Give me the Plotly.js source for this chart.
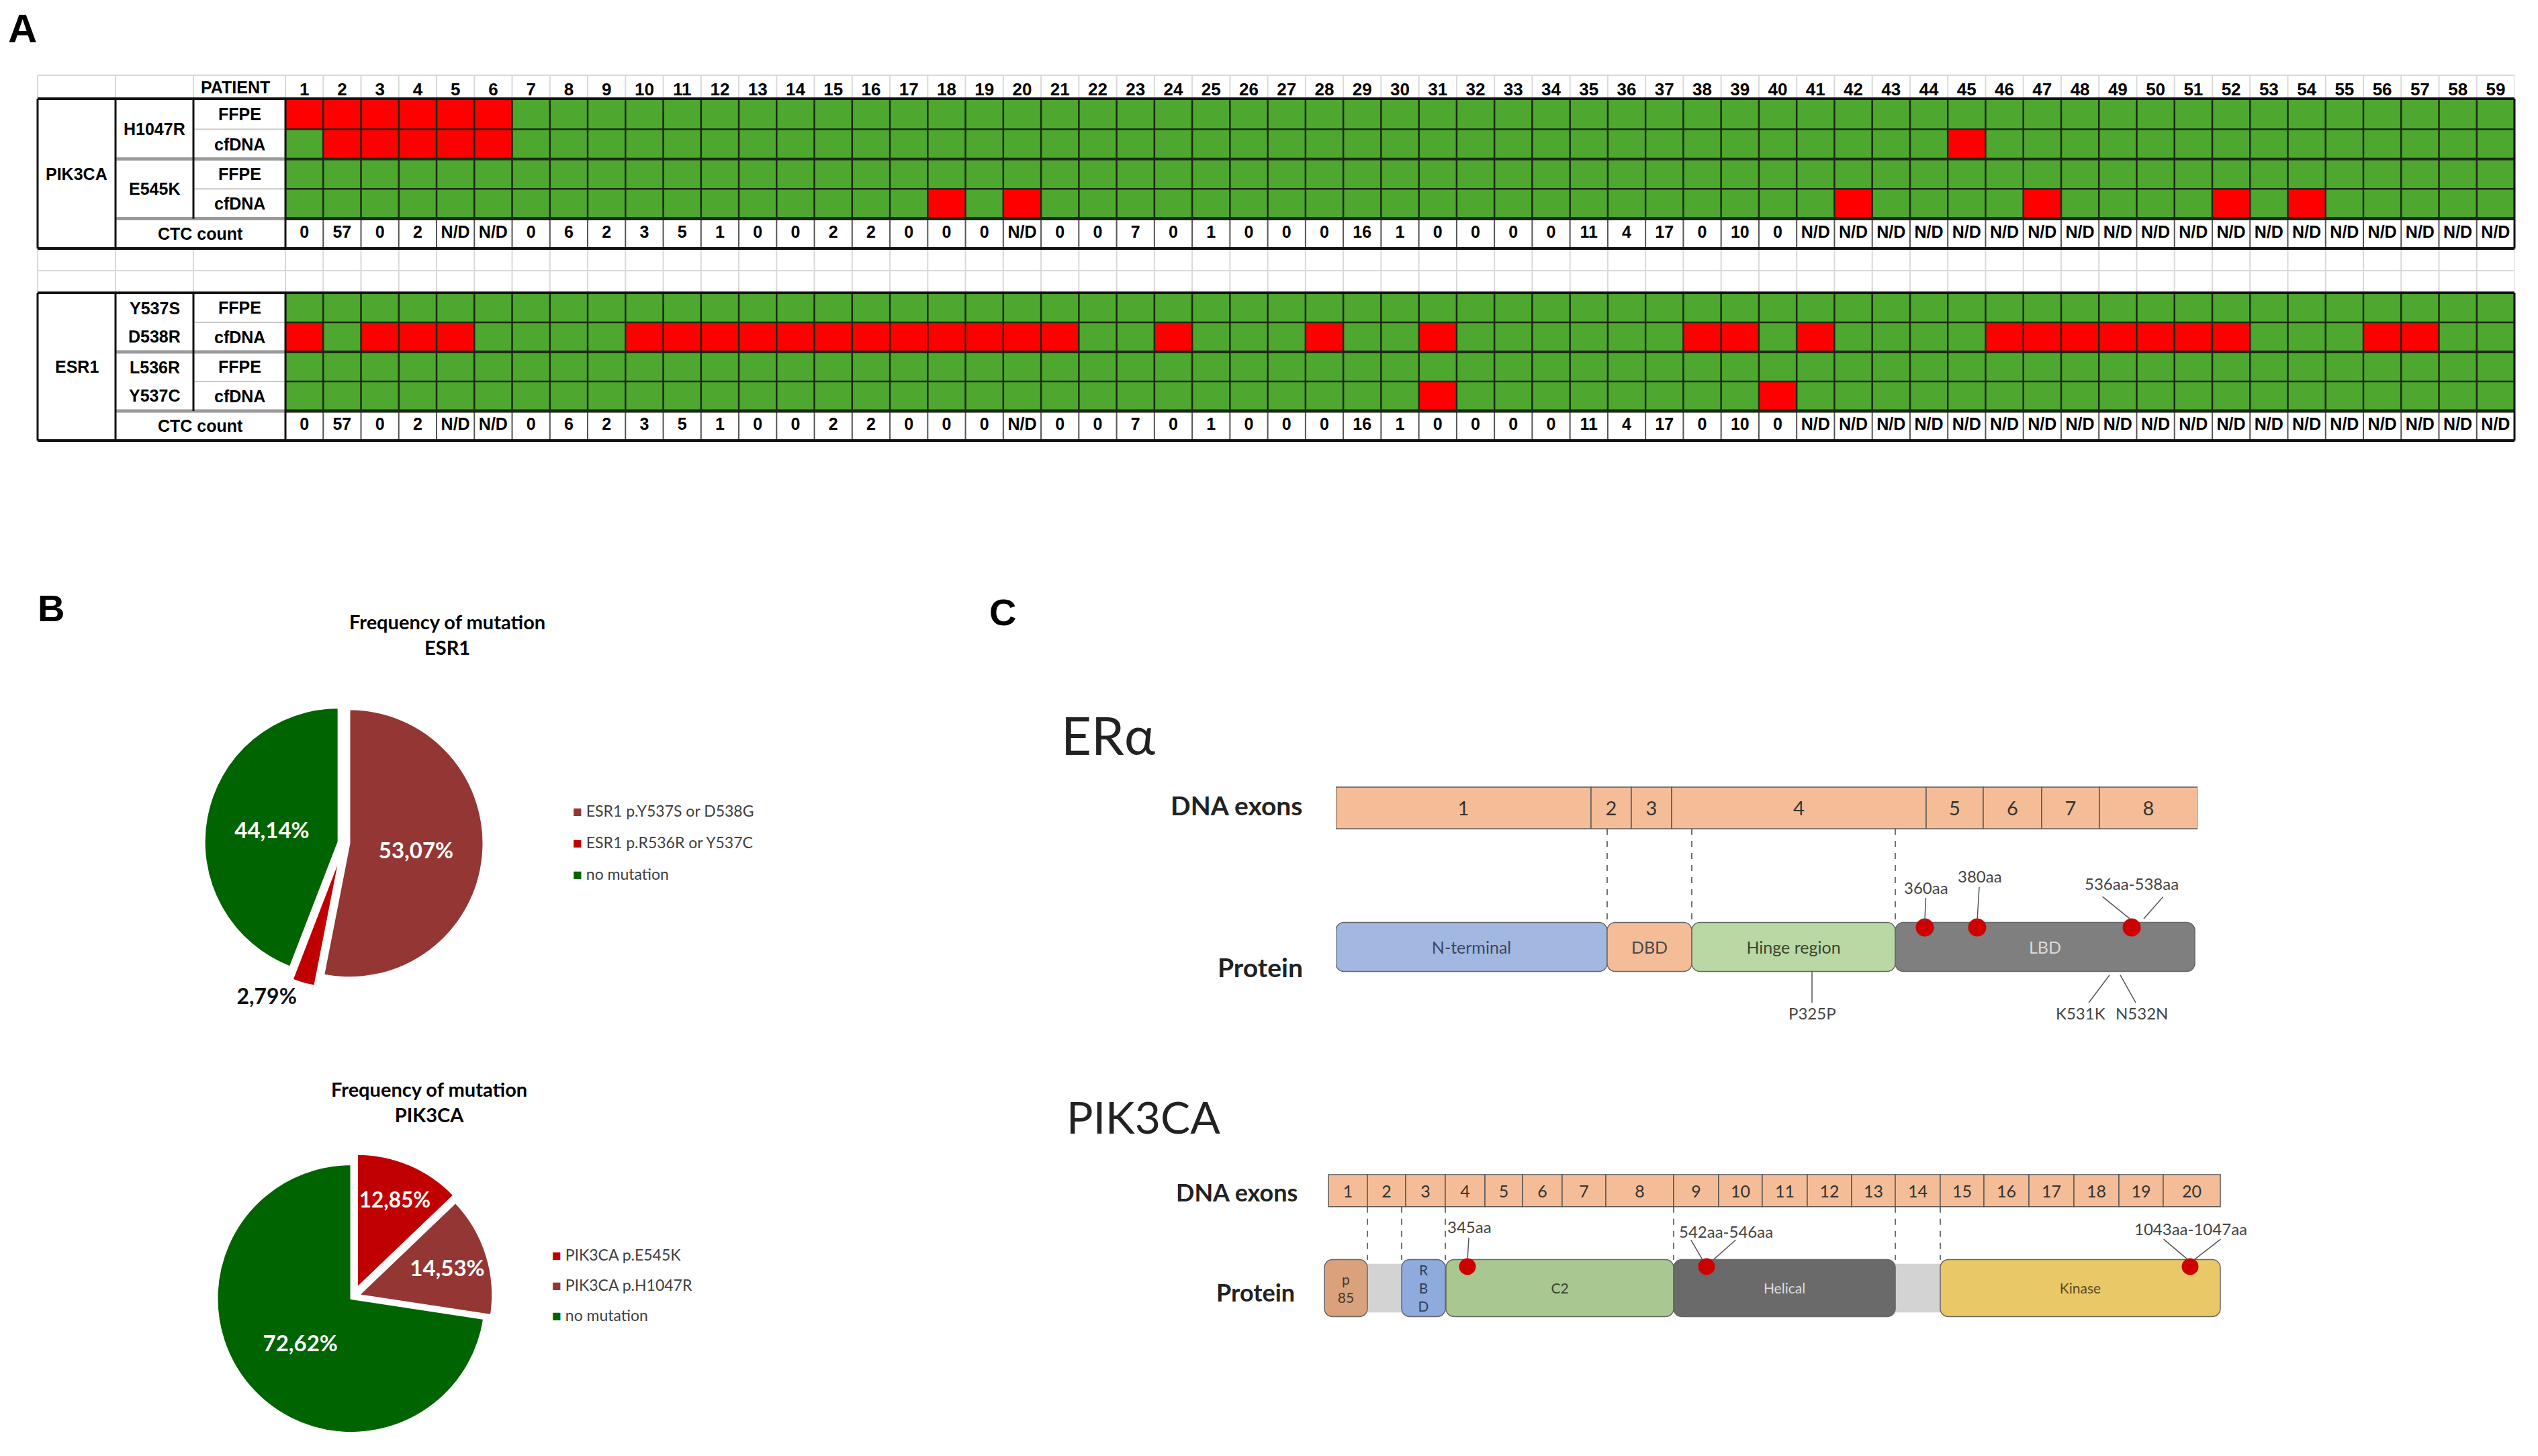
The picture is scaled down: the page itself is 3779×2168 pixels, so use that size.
<!DOCTYPE html>
<html><head><meta charset="utf-8">
<script src="https://cdn.plot.ly/plotly-3.0.1.min.js"></script>
<style>html,body{margin:0;padding:0;background:#fff}#chart{width:3779px;height:2168px}</style>
</head><body><div id="chart"></div>
<script>
const W=3779,H=2168;
const px=x=>x/W, py=y=>1-y/H;
const NARROW='"Liberation Sans Narrow","Arial Narrow","Liberation Sans",Arial,sans-serif';
const CAL='Lato,"Open Sans",sans-serif';

// ---------- Panel A data ----------
const patients=[1,2,3,4,5,6,7,8,9,10,11,12,13,14,15,16,17,18,19,20,21,22,23,24,25,26,27,28,29,30,31,32,33,34,35,36,37,38,39,40,41,42,43,44,45,46,47,48,49,50,51,52,53,54,55,56,57,58,59];
const pik_H1047R_FFPE =[1,1,1,1,1,1,0,0,0,0, 0,0,0,0,0,0,0,0,0,0, 0,0,0,0,0,0,0,0,0,0, 0,0,0,0,0,0,0,0,0,0, 0,0,0,0,0,0,0,0,0,0, 0,0,0,0,0,0,0,0,0];
const pik_H1047R_cfDNA=[0,1,1,1,1,1,0,0,0,0, 0,0,0,0,0,0,0,0,0,0, 0,0,0,0,0,0,0,0,0,0, 0,0,0,0,0,0,0,0,0,0, 0,0,0,0,1,0,0,0,0,0, 0,0,0,0,0,0,0,0,0];
const pik_E545K_FFPE  =[0,0,0,0,0,0,0,0,0,0, 0,0,0,0,0,0,0,0,0,0, 0,0,0,0,0,0,0,0,0,0, 0,0,0,0,0,0,0,0,0,0, 0,0,0,0,0,0,0,0,0,0, 0,0,0,0,0,0,0,0,0];
const pik_E545K_cfDNA =[0,0,0,0,0,0,0,0,0,0, 0,0,0,0,0,0,0,1,0,1, 0,0,0,0,0,0,0,0,0,0, 0,0,0,0,0,0,0,0,0,0, 0,1,0,0,0,0,1,0,0,0, 0,1,0,1,0,0,0,0,0];
const esr_Y537S_FFPE  =[0,0,0,0,0,0,0,0,0,0, 0,0,0,0,0,0,0,0,0,0, 0,0,0,0,0,0,0,0,0,0, 0,0,0,0,0,0,0,0,0,0, 0,0,0,0,0,0,0,0,0,0, 0,0,0,0,0,0,0,0,0];
const esr_Y537S_cfDNA =[1,0,1,1,1,0,0,0,0,1, 1,1,1,1,1,1,1,1,1,1, 1,0,0,1,0,0,0,1,0,0, 1,0,0,0,0,0,0,1,1,0, 1,0,0,0,0,1,1,1,1,1, 1,1,0,0,0,1,1,0,0];
const esr_L536R_FFPE  =[0,0,0,0,0,0,0,0,0,0, 0,0,0,0,0,0,0,0,0,0, 0,0,0,0,0,0,0,0,0,0, 0,0,0,0,0,0,0,0,0,0, 0,0,0,0,0,0,0,0,0,0, 0,0,0,0,0,0,0,0,0];
const esr_L536R_cfDNA =[0,0,0,0,0,0,0,0,0,0, 0,0,0,0,0,0,0,0,0,0, 0,0,0,0,0,0,0,0,0,0, 1,0,0,0,0,0,0,0,0,1, 0,0,0,0,0,0,0,0,0,0, 0,0,0,0,0,0,0,0,0];
const ctcCount=['0','57','0','2','N/D','N/D','0','6','2','3', '5','1','0','0','2','2','0','0','0','N/D', '0','0','7','0','1','0','0','0','16','1', '0','0','0','0','11','4','17','0','10','0',
 'N/D','N/D','N/D','N/D','N/D','N/D','N/D','N/D','N/D','N/D', 'N/D','N/D','N/D','N/D','N/D','N/D','N/D','N/D','N/D'];
const sampleTypes=['FFPE','cfDNA'];

// ---------- Panel B data ----------
const esrLabels=['ESR1 p.Y537S or D538G','ESR1 p.R536R or Y537C','no mutation'];
const esrValues=[53.07,2.79,44.14];
const esrColors=['#943634','#C00000','#006400'];
const pikLabels=['PIK3CA p.E545K','PIK3CA p.H1047R','no mutation'];
const pikValues=[12.85,14.53,72.62];
const pikColors=['#C00000','#943634','#006400'];

// ---------- Panel C data ----------
const erExonNames=['1','2','3','4','5','6','7','8'];
const erExonLen=[380,60,60,379,85,87,86,146];
const erDomNames=['N-terminal','DBD','Hinge region','LBD'];
const erDomLen=[404,126,303,446];
const erDomColors=['#A3B8E0','#F4BD97','#B9D8A4','#7F7F7F'];
const erDomText=['#3d4660','#4a4a4a','#3a4530','#d9d9d9'];
const erMutLabels=['360aa','380aa','536aa-538aa'];
const erMutPos=[877,955,1185];
const erSilentLabels=['P325P','K531K','N532N'];
const erSilentPos=[709,1152,1168];

const pikExonNames=['1','2','3','4','5','6','7','8','9','10','11','12','13','14','15','16','17','18','19','20'];
const pikExonLen=[58,57,59,59,56,59,65,101,67,65,67,66,65,67,65,67,67,67,66,85];
const pikDomNames=['p<br>85','R<br>B<br>D','C2','Helical','Kinase'];
const pikDomStart=[-6,109,175,514,911];
const pikDomLen=[64,65,339,330,417];
const pikDomColors=['#D9A27C','#8FAADC','#A9C790','#6A6A6A','#E8C867'];
const pikDomText=['#4a3a2a','#2f3d5a','#3a4530','#dddddd','#5a4a20'];
const pikProteinLen=1328;
const pikMutLabels=['345aa','542aa-546aa','1043aa-1047aa'];
const pikMutPos=[207,563,1283];

const cumStart=arr=>{const o=[];let s=0;for(const v of arr){o.push(s);s+=v;}return o;};

// ---------- traces ----------
const traces=[];
const cs=[[0,'#4EA72E'],[0.5,'#4EA72E'],[0.5,'#FF0000'],[1,'#FF0000']];
traces.push({type:'heatmap',x:patients,y:[0,1,2,3],z:[pik_H1047R_FFPE,pik_H1047R_cfDNA,pik_E545K_FFPE,pik_E545K_cfDNA],
  colorscale:cs,zmin:0,zmax:1,showscale:false,xaxis:'x',yaxis:'y',hoverinfo:'skip'});
traces.push({type:'heatmap',x:patients,y:[0,1,2,3],z:[esr_Y537S_FFPE,esr_Y537S_cfDNA,esr_L536R_FFPE,esr_L536R_cfDNA],
  colorscale:cs,zmin:0,zmax:1,showscale:false,xaxis:'x',yaxis:'y2',hoverinfo:'skip'});
const ctcFont={family:NARROW,size:25,color:'#000',weight:700};
traces.push({type:'scatter',mode:'text',x:patients,y:patients.map(()=>4),text:ctcCount,textfont:ctcFont,xaxis:'x',yaxis:'y',cliponaxis:false,hoverinfo:'skip',showlegend:false});
traces.push({type:'scatter',mode:'text',x:patients,y:patients.map(()=>4),text:ctcCount,textfont:ctcFont,xaxis:'x',yaxis:'y2',cliponaxis:false,hoverinfo:'skip',showlegend:false});

// pies
const pieCommon={type:'pie',sort:false,direction:'clockwise',rotation:0,texttemplate:'%{percent:.2%}',
  insidetextorientation:'horizontal',showlegend:false,hoverinfo:'skip',
  textfont:{family:CAL,size:33,weight:700},insidetextfont:{family:CAL,size:33,color:'#fff',weight:700},
  outsidetextfont:{family:CAL,size:32,color:'#111',weight:700}};
traces.push(Object.assign({},pieCommon,{labels:esrLabels,values:esrValues,marker:{colors:esrColors,line:{color:'#fff',width:3}},
  pull:[0.04,0.09,0.04],textposition:['inside','outside','inside'],
  domain:{x:[px(294),px(730)],y:[py(1473),py(1037)]}}));
traces.push(Object.assign({},pieCommon,{labels:pikLabels,values:pikValues,marker:{colors:pikColors,line:{color:'#fff',width:3}},
  pull:[0.07,0.04,0.02],textposition:['inside','inside','inside'],
  domain:{x:[px(312),px(740)],y:[py(2145),py(1717)]}}));

// ERα
traces.push({type:'bar',orientation:'h',y:erExonLen.map(()=>1),x:erExonLen,base:cumStart(erExonLen),width:0.30,
  text:erExonNames,textposition:'inside',insidetextanchor:'middle',textangle:0,
  textfont:{family:CAL,size:29,color:'#333'},marker:{color:'#F4BD97',line:{color:'#5a5a5a',width:1.5}},
  xaxis:'x3',yaxis:'y3',hoverinfo:'skip',showlegend:false});
traces.push({type:'bar',orientation:'h',y:erDomLen.map(()=>0),x:erDomLen,base:cumStart(erDomLen),width:0.353,
  text:erDomNames,textposition:'inside',insidetextanchor:'middle',textangle:0,
  textfont:{family:CAL,size:25,color:erDomText},marker:{color:erDomColors,line:{color:'#666',width:1.5},cornerradius:12},
  xaxis:'x3',yaxis:'y3',hoverinfo:'skip',showlegend:false});
(function(){
  const st=cumStart(erDomLen);const bx=[],by=[];
  for(let i=1;i<st.length;i++){bx.push(st[i],st[i],null);by.push(0.85,0.176,null);}
  traces.push({type:'scatter',mode:'lines',x:bx,y:by,line:{color:'#444',width:1.5,dash:'dash'},xaxis:'x3',yaxis:'y3',hoverinfo:'skip',showlegend:false});
})();
traces.push({type:'scatter',mode:'markers',x:erMutPos,y:erMutPos.map(()=>0.14),marker:{color:'#CC0000',size:27},xaxis:'x3',yaxis:'y3',hoverinfo:'skip',showlegend:false,cliponaxis:false});

// PIK3CA
traces.push({type:'bar',orientation:'h',y:pikExonLen.map(()=>1),x:pikExonLen,base:cumStart(pikExonLen),width:0.33,
  text:pikExonNames,textposition:'inside',insidetextanchor:'middle',textangle:0,
  textfont:{family:CAL,size:25,color:'#333'},marker:{color:'#F4BD97',line:{color:'#5a5a5a',width:1.5}},
  xaxis:'x4',yaxis:'y4',hoverinfo:'skip',showlegend:false});
traces.push({type:'bar',orientation:'h',y:[0],x:[pikProteinLen],base:[0],width:0.5,marker:{color:'#D3D3D3',line:{width:0}},
  xaxis:'x4',yaxis:'y4',hoverinfo:'skip',showlegend:false});
traces.push({type:'bar',orientation:'h',y:pikDomLen.map(()=>0),x:pikDomLen,base:pikDomStart,width:0.586,
  text:pikDomNames,textposition:'inside',insidetextanchor:'middle',textangle:0,
  textfont:{family:CAL,size:21,color:pikDomText},marker:{color:pikDomColors,line:{color:'#666',width:1.5},cornerradius:12},
  xaxis:'x4',yaxis:'y4',hoverinfo:'skip',showlegend:false});
(function(){
  const b=[pikDomStart[0]+pikDomLen[0],pikDomStart[1],pikDomStart[1]+pikDomLen[1],pikDomStart[2]+pikDomLen[2],pikDomStart[3]+pikDomLen[3],pikDomStart[4]];
  const bx=[],by=[];
  for(const v of b){bx.push(v,v,null);by.push(0.835,0.29,null);}
  traces.push({type:'scatter',mode:'lines',x:bx,y:by,line:{color:'#444',width:1.5,dash:'dash'},xaxis:'x4',yaxis:'y4',hoverinfo:'skip',showlegend:false});
})();
traces.push({type:'scatter',mode:'markers',x:pikMutPos,y:pikMutPos.map(()=>0.22),marker:{color:'#CC0000',size:25},xaxis:'x4',yaxis:'y4',hoverinfo:'skip',showlegend:false,cliponaxis:false});

// ---------- shapes (table grid) ----------
const shapes=[];
const L=(x0,y0,x1,y1,color,width,xref)=>shapes.push({type:'line',xref:xref||'paper',yref:'paper',
  x0:xref?x0:px(x0),x1:xref?x1:px(x1),y0:py(y0),y1:py(y1),line:{color:color,width:width},layer:'above'});
const bounds=[0.5].concat(patients.map(p=>p+0.5));
const LBL=[56,172,288,425];
for(const b of bounds){L(b,112,b,147,'#D9D9D9',2,'x');L(b,370,b,436,'#D9D9D9',2,'x');}
for(const X of LBL){L(X,112,X,147,'#D9D9D9',2);L(X,370,X,436,'#D9D9D9',2);}
L(56,112,3744,112,'#D9D9D9',2);L(56,403,3744,403,'#D9D9D9',2);
for(const b of bounds){L(b,148,b,325.6,'#1B2A12',2.5,'x');L(b,436,b,612,'#1B2A12',2.5,'x');
  L(b,325.6,b,370,'#555',2,'x');L(b,612,b,656,'#555',2,'x');}
for(const y of [192.4,281.2,480,568]){L(425,y,3744,y,'#1B2A12',2.5);L(288,y,425,y,'#C8C8C8',2);}
for(const y of [236.8,524]){L(425,y,3744,y,'#1B2A12',4);L(172,y,425,y,'#9A9A9A',5);}
for(const y of [325.6,612]){L(425,y,3744,y,'#1B2A12',5);L(172,y,425,y,'#9A9A9A',5);}
for(const y of [147,370,436,656]){L(56,y,3744,y,'#111',4);}
for(const X of [56,172,425,3744]){L(X,147,X,370,'#111',3);L(X,436,X,656,'#111',3);}
L(288,147,288,325.6,'#111',3);L(288,436,288,612,'#111',3);

// ---------- annotations ----------
const annotations=[];
const A=(text,x,y,size,o)=>{o=o||{};annotations.push({xref:'paper',yref:'paper',x:px(x),y:py(y),text:text,showarrow:false,
  xanchor:o.xa||'center',yanchor:'middle',font:{family:o.f||NARROW,size:size,color:o.c||'#000',weight:o.w===undefined?700:o.w}});};
A('A',33,42,60,{f:'"Liberation Sans",Arial,sans-serif'});
A('B',76,905,56,{f:'"Liberation Sans",Arial,sans-serif'});
A('C',1493,911,56,{f:'"Liberation Sans",Arial,sans-serif'});
A('PATIENT',350,130,25);
A('PIK3CA',114,259,25);A('ESR1',114,546,25);
A('H1047R',230,192.4,25);A('E545K',230,281.2,25);
A('Y537S',230,459,25);A('D538R',230,501,25);A('L536R',230,547,25);A('Y537C',230,589,25);
const sRows1=[170.2,214.6,259,303.4],sRows2=[458,502,546,590];
for(let i=0;i<4;i++){A(sampleTypes[i%2],357,sRows1[i],25);A(sampleTypes[i%2],357,sRows2[i],25);}
A('CTC count',298,348,25);A('CTC count',298,634,25);

// pie titles
A('Frequency of mutation<br>ESR1',666,944,29,{f:CAL});
A('Frequency of mutation<br>PIK3CA',639,1640,29,{f:CAL});
// pie legends
esrLabels.forEach((l,i)=>A('<span style="color:'+esrColors[i]+'">■</span> '+l,851,1207+i*47,23,{f:CAL,xa:'left',c:'#404040',w:400}));
pikLabels.forEach((l,i)=>A('<span style="color:'+pikColors[i]+'">■</span> '+l,820,1868+i*45,23,{f:CAL,xa:'left',c:'#404040',w:400}));

// panel C titles / row labels
A('ERα',1578,1094,78,{f:CAL,xa:'left',w:400,c:'#222'});
A('PIK3CA',1586,1662,66,{f:CAL,xa:'left',w:400,c:'#222'});
A('DNA exons',1942,1199,39,{f:CAL,xa:'right',c:'#222'});
A('Protein',1942,1440,39,{f:CAL,xa:'right',c:'#222'});
A('DNA exons',1934,1775,36,{f:CAL,xa:'right',c:'#222'});
A('Protein',1930,1924,36,{f:CAL,xa:'right',c:'#222'});

const lab=(text,xref,yref,x,y,ax,ay,size)=>annotations.push({xref:xref,yref:yref,x:x,y:y,ax:ax,ay:ay,text:text,showarrow:true,
  arrowhead:0,arrowwidth:1.5,arrowcolor:'#555',font:{family:CAL,size:size,color:'#444'}});
const txt=(text,xref,yref,x,y,size)=>annotations.push({xref:xref,yref:yref,x:x,y:y,text:text,showarrow:false,font:{family:CAL,size:size,color:'#444'}});
// ERα mutations
lab(erMutLabels[0],'x3','y3',erMutPos[0],0.188,2,-50,24);
lab(erMutLabels[1],'x3','y3',erMutPos[1],0.19,4,-66,24);
txt(erMutLabels[2],'x3','y3',erMutPos[2],0.454,24);
lab('','x3','y3',erMutPos[2]-3,0.203,-42,-34,24);
lab('','x3','y3',erMutPos[2]+18,0.203,30,-34,24);
lab(erSilentLabels[0],'x3','y3',erSilentPos[0],-0.174,0,63,24);
lab(erSilentLabels[1],'x3','y3',erSilentPos[1],-0.203,-43,57,24);
lab(erSilentLabels[2],'x3','y3',erSilentPos[2],-0.203,32,57,24);
// PIK3CA mutations
lab(pikMutLabels[0],'x4','y4',pikMutPos[0],0.29,3,-49,24);
txt(pikMutLabels[1],'x4','y4',pikMutPos[1]+29,0.579,24);
lab('','x4','y4',pikMutPos[1]-6,0.29,-18,-31,24);
lab('','x4','y4',pikMutPos[1]+10,0.29,35,-31,24);
txt(pikMutLabels[2],'x4','y4',pikMutPos[2]+1,0.607,24);
lab('','x4','y4',pikMutPos[2]-3,0.29,-38,-32,24);
lab('','x4','y4',pikMutPos[2]+6,0.29,41,-32,24);

const noax={visible:false,fixedrange:true,showgrid:false,zeroline:false};
const layout={
  width:W,height:H,margin:{l:0,r:0,t:0,b:0},paper_bgcolor:'#fff',plot_bgcolor:'rgba(0,0,0,0)',
  separators:',.',barmode:'overlay',showlegend:false,
  xaxis:{domain:[px(425),px(3744)],range:[0.5,59.5],anchor:'y',side:'top',tickmode:'array',tickvals:patients,ticktext:patients.map(String),
    ticks:'',showline:false,showgrid:false,zeroline:false,fixedrange:true,tickfont:{family:NARROW,size:26,color:'#000',weight:700}},
  yaxis:Object.assign({domain:[py(370),py(148)],range:[4.5,-0.5],anchor:'x'},noax),
  yaxis2:Object.assign({domain:[py(656),py(436)],range:[4.5,-0.5],anchor:'x'},noax),
  xaxis3:Object.assign({domain:[px(1989),px(3272)],range:[0,1283],anchor:'y3'},noax),
  yaxis3:Object.assign({domain:[py(1530),py(1140)],range:[-0.580,1.304],anchor:'x3'},noax),
  xaxis4:Object.assign({domain:[px(1968),px(3308)],range:[-10,1330],anchor:'y4'},noax),
  yaxis4:Object.assign({domain:[py(2000),py(1700)],range:[-0.566,1.503],anchor:'x4'},noax),
  shapes:shapes,annotations:annotations
};
Plotly.newPlot('chart',traces,layout,{staticPlot:true,displayModeBar:false});
</script></body></html>
